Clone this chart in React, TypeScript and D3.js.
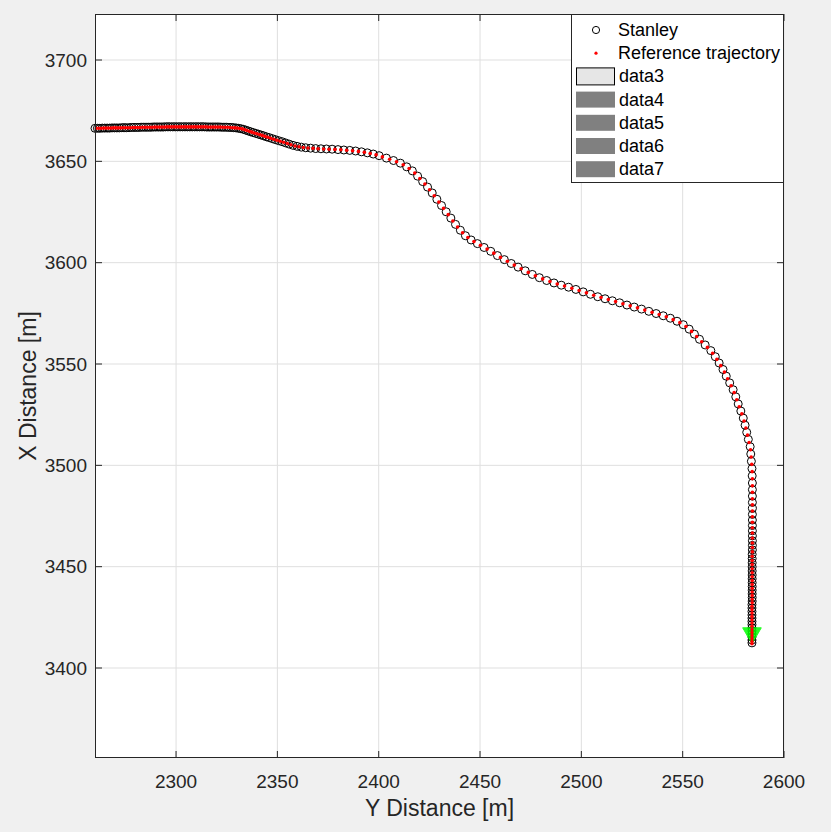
import React from 'react';
import * as d3 from 'd3';

const xTicks = [2300, 2350, 2400, 2450, 2500, 2550, 2600];
const yTicks = [3400, 3450, 3500, 3550, 3600, 3650, 3700];
const xDomain = [2260, 2600];
const yDomain = [3355.6, 3722.7];
const xLabel = 'Y Distance [m]';
const yLabel = 'X Distance [m]';
const legendLabels = ['Stanley', 'Reference trajectory', 'data3', 'data4', 'data5', 'data6', 'data7'];

// Stanley controller positions (horizontal = Y distance, vertical = X distance)
const stanleyY = [
  2260.0, 2261.2, 2262.4, 2263.6, 2264.8, 2266.0, 2267.2, 2268.4, 2269.6, 2270.8,
  2272.0, 2273.2, 2274.4, 2275.6, 2276.8, 2278.0, 2279.2, 2280.4, 2281.6, 2282.8,
  2284.0, 2285.2, 2286.4, 2287.6, 2288.8, 2290.0, 2291.2, 2292.4, 2293.6, 2294.8,
  2296.0, 2297.2, 2298.4, 2299.6, 2300.8, 2302.0, 2303.2, 2304.4, 2305.6, 2306.8,
  2308.0, 2309.2, 2310.4, 2311.6, 2312.8, 2314.0, 2315.2, 2316.4, 2317.6, 2318.8,
  2320.0, 2321.2, 2322.4, 2323.6, 2324.8, 2326.0, 2327.2, 2328.4, 2329.6, 2330.8,
  2332.0, 2333.2,
  2334.4, 2335.6, 2336.8, 2338.0, 2339.3, 2340.6, 2341.9, 2343.2, 2344.6, 2346.0,
  2347.5, 2349.0, 2350.6, 2352.3, 2354.0, 2355.8, 2357.7, 2359.7, 2361.8, 2364.0,
  2366.4, 2368.9, 2371.5, 2374.2, 2377.0, 2379.9, 2382.8, 2385.7, 2388.6, 2391.5,
  2394.4, 2397.3, 2400.2, 2403.8, 2407.3, 2410.7, 2413.8, 2416.6, 2419.2, 2421.7,
  2424.1, 2426.4, 2428.7, 2431.0, 2433.3, 2435.6, 2437.9, 2440.3, 2442.8, 2445.6,
  2448.7, 2452.0, 2455.3, 2458.6, 2462.0, 2465.4, 2468.8, 2472.3, 2475.8, 2479.3,
  2482.9, 2486.5, 2490.1, 2493.7, 2497.3, 2500.9, 2504.5, 2508.1, 2511.7, 2515.3,
  2518.9, 2522.5, 2526.1, 2529.7, 2533.3, 2536.9, 2540.4, 2543.9, 2547.2, 2550.3,
  2553.2, 2555.8, 2558.3, 2561.1, 2563.9, 2566.1, 2568.0, 2569.9, 2571.5, 2573.2,
  2574.9, 2576.2, 2577.4, 2578.7, 2579.9, 2580.8, 2581.6, 2582.4, 2583.3, 2583.6,
  2583.9, 2584.2, 2584.3, 2584.4,
  2584.4, 2584.4, 2584.4, 2584.4, 2584.4, 2584.4, 2584.4, 2584.4, 2584.4, 2584.4, 2584.4, 2584.4,
  2584.3, 2584.3, 2584.3, 2584.3, 2584.3, 2584.3, 2584.3, 2584.3, 2584.3, 2584.3, 2584.3, 2584.3, 2584.3,
  2584.2, 2584.2, 2584.2, 2584.2, 2584.2, 2584.2, 2584.2, 2584.2, 2584.2, 2584.2, 2584.2, 2584.2, 2584.2,
];
const stanleyX = [
  3666.3, 3666.3, 3666.3, 3666.4, 3666.4, 3666.4, 3666.4, 3666.5, 3666.5, 3666.5,
  3666.5, 3666.6, 3666.6, 3666.6, 3666.6, 3666.7, 3666.7, 3666.7, 3666.7, 3666.8,
  3666.8, 3666.8, 3666.8, 3666.8, 3666.9, 3666.9, 3666.9, 3666.9, 3666.9, 3667.0,
  3667.0, 3667.0, 3667.0, 3667.0, 3667.0, 3667.0, 3667.0, 3667.0, 3667.0, 3667.0,
  3667.0, 3667.0, 3667.0, 3667.0, 3667.0, 3667.0, 3666.9, 3666.9, 3666.9, 3666.9,
  3666.9, 3666.9, 3666.8, 3666.8, 3666.8, 3666.7, 3666.7, 3666.6, 3666.5, 3666.3,
  3666.1, 3665.8,
  3665.4, 3665.0, 3664.6, 3664.2, 3663.8, 3663.4, 3663.0, 3662.6, 3662.1, 3661.7,
  3661.2, 3660.7, 3660.2, 3659.7, 3659.1, 3658.5, 3657.9, 3657.4, 3657.0, 3656.7,
  3656.5, 3656.3, 3656.2, 3656.1, 3656.0, 3655.8, 3655.6, 3655.4, 3655.1, 3654.7,
  3654.2, 3653.6, 3652.8, 3651.6, 3650.4, 3649.1, 3647.3, 3645.3, 3642.7, 3640.0,
  3637.3, 3634.4, 3631.3, 3628.2, 3625.1, 3622.0, 3618.9, 3616.0, 3613.3, 3611.2,
  3609.4, 3607.5, 3605.6, 3603.5, 3601.5, 3599.6, 3597.8, 3596.0, 3594.2, 3592.6,
  3591.2, 3590.0, 3588.9, 3587.9, 3586.8, 3585.6, 3584.4, 3583.2, 3582.2, 3581.2,
  3580.2, 3579.1, 3578.1, 3577.1, 3576.0, 3574.9, 3573.8, 3572.6, 3571.1, 3569.4,
  3567.2, 3564.7, 3562.2, 3559.4, 3556.6, 3553.6, 3550.5, 3547.3, 3544.0, 3540.7,
  3537.3, 3533.8, 3530.3, 3526.8, 3523.3, 3519.8, 3516.3, 3512.8, 3509.2, 3505.6,
  3502.0, 3498.4, 3494.8, 3491.3,
  3488.0, 3484.8, 3481.7, 3478.7, 3475.8, 3473.0, 3470.3, 3467.7, 3465.2, 3462.8, 3460.5, 3458.3,
  3456.1, 3454.0, 3451.9, 3449.9, 3447.9, 3445.9, 3444.0, 3442.1, 3440.2, 3438.4, 3436.6, 3434.8, 3433.0,
  3431.3, 3429.6, 3427.9, 3426.2, 3424.6, 3423.0, 3421.4, 3419.8, 3418.3, 3416.8, 3415.3, 3413.8, 3412.4,
];

// Reference trajectory
const refY = [
  2260.7, 2261.9, 2263.1, 2264.3, 2265.5, 2266.7, 2267.9, 2269.1, 2270.3, 2271.5,
  2272.7, 2273.9, 2275.1, 2276.3, 2277.5, 2278.7, 2279.9, 2281.1, 2282.3, 2283.5,
  2284.7, 2285.9, 2287.1, 2288.3, 2289.5, 2290.7, 2291.9, 2293.1, 2294.3, 2295.5,
  2296.7, 2297.9, 2299.1, 2300.3, 2301.5, 2302.7, 2303.9, 2305.1, 2306.3, 2307.5,
  2308.7, 2309.9, 2311.1, 2312.3, 2313.5, 2314.7, 2315.9, 2317.1, 2318.3, 2319.5,
  2320.7, 2321.9, 2323.1, 2324.3, 2325.5, 2326.7, 2327.9, 2329.1, 2330.3, 2331.5,
  2332.7, 2333.9,
  2335.0, 2336.2, 2337.4, 2338.6, 2339.9, 2341.2, 2342.5, 2343.9, 2345.3, 2346.7,
  2348.2, 2349.8, 2351.4, 2353.1, 2354.9, 2356.7, 2358.7, 2360.7, 2362.8, 2365.1,
  2367.6, 2370.1, 2372.8, 2375.5, 2378.4, 2381.3, 2384.2, 2387.1, 2390.0, 2392.9,
  2395.8, 2398.7, 2401.8, 2405.4, 2408.8, 2412.1, 2415.0, 2417.8, 2420.3, 2422.8,
  2425.1, 2427.4, 2429.7, 2432.0, 2434.3, 2436.6, 2438.9, 2441.4, 2444.0, 2447.0,
  2450.2, 2453.5, 2456.8, 2460.1, 2463.5, 2466.9, 2470.3, 2473.8, 2477.3, 2480.9,
  2484.5, 2488.1, 2491.7, 2495.3, 2498.9, 2502.5, 2506.1, 2509.7, 2513.3, 2516.9,
  2520.5, 2524.1, 2527.7, 2531.3, 2534.9, 2538.4, 2541.9, 2545.3, 2548.6, 2551.6,
  2554.4, 2556.9, 2559.4, 2562.2, 2564.8, 2566.9, 2568.8, 2570.6, 2572.2, 2573.9,
  2575.4, 2576.7, 2577.9, 2579.2, 2580.3, 2581.2, 2582.0, 2582.8, 2583.5, 2583.8,
  2584.1, 2584.3, 2584.4, 2584.4,
  2584.4, 2584.4, 2584.4, 2584.4, 2584.4, 2584.4, 2584.4, 2584.4, 2584.4, 2584.4, 2584.4, 2584.4,
  2584.3, 2584.3, 2584.3, 2584.3, 2584.3, 2584.3, 2584.3, 2584.3, 2584.3, 2584.3, 2584.3, 2584.3, 2584.3,
  2584.2, 2584.2, 2584.2, 2584.2, 2584.2, 2584.2, 2584.2, 2584.2, 2584.2, 2584.2, 2584.2, 2584.2, 2584.2,
];
const refX = [
  3666.3, 3666.3, 3666.3, 3666.4, 3666.4, 3666.4, 3666.4, 3666.5, 3666.5, 3666.5,
  3666.5, 3666.6, 3666.6, 3666.6, 3666.6, 3666.7, 3666.7, 3666.7, 3666.7, 3666.8,
  3666.8, 3666.8, 3666.8, 3666.8, 3666.9, 3666.9, 3666.9, 3666.9, 3666.9, 3667.0,
  3667.0, 3667.0, 3667.0, 3667.0, 3667.0, 3667.0, 3667.0, 3667.0, 3667.0, 3667.0,
  3667.0, 3667.0, 3667.0, 3667.0, 3667.0, 3667.0, 3666.9, 3666.9, 3666.9, 3666.9,
  3666.9, 3666.9, 3666.8, 3666.8, 3666.8, 3666.7, 3666.6, 3666.5, 3666.4, 3666.2,
  3666.0, 3665.6,
  3665.2, 3664.8, 3664.4, 3664.0, 3663.6, 3663.2, 3662.8, 3662.3, 3661.9, 3661.4,
  3660.9, 3660.4, 3659.9, 3659.4, 3658.8, 3658.2, 3657.6, 3657.2, 3656.8, 3656.6,
  3656.4, 3656.2, 3656.1, 3656.0, 3655.9, 3655.7, 3655.5, 3655.2, 3654.9, 3654.5,
  3653.9, 3653.2, 3652.2, 3651.0, 3649.8, 3648.3, 3646.5, 3644.2, 3641.5, 3638.8,
  3636.0, 3633.0, 3629.9, 3626.8, 3623.7, 3620.6, 3617.6, 3614.8, 3612.4, 3610.4,
  3608.6, 3606.7, 3604.7, 3602.6, 3600.7, 3598.8, 3597.0, 3595.2, 3593.5, 3592.0,
  3590.7, 3589.5, 3588.5, 3587.4, 3586.3, 3585.1, 3583.9, 3582.8, 3581.8, 3580.8,
  3579.7, 3578.7, 3577.7, 3576.6, 3575.5, 3574.4, 3573.3, 3571.9, 3570.4, 3568.5,
  3566.1, 3563.6, 3561.0, 3558.2, 3555.3, 3552.3, 3549.2, 3546.0, 3542.7, 3539.3,
  3535.9, 3532.4, 3528.9, 3525.4, 3521.9, 3518.4, 3514.9, 3511.3, 3507.7, 3504.1,
  3500.5, 3496.9, 3493.4, 3489.9,
  3486.7, 3483.5, 3480.5, 3477.5, 3474.6, 3471.9, 3469.2, 3466.6, 3464.1, 3461.7, 3459.5, 3457.3,
  3455.1, 3453.0, 3451.0, 3449.0, 3447.0, 3445.0, 3443.1, 3441.2, 3439.3, 3437.5, 3435.7, 3433.9, 3432.2,
  3430.5, 3428.8, 3427.1, 3425.4, 3423.8, 3422.2, 3420.6, 3419.0, 3417.5, 3416.0, 3414.5, 3413.1, 3412.0,
];

const goalY = [2584.2];
const goalX = [3417.2];

const FONT = '"Liberation Sans", Arial, Helvetica, sans-serif';
const AX = '#262626';

export default function App() {
  const W = 831, H = 832;
  const left = 95, right = 784, top = 14, bottom = 758;
  const x = d3.scaleLinear().domain(xDomain).range([left, right]);
  const y = d3.scaleLinear().domain(yDomain).range([bottom, top]);

  const stanley = stanleyY.map((v, i) => [v, stanleyX[i]]).filter(d => d[1] !== undefined);
  const ref = refY.map((v, i) => [v, refX[i]]).filter(d => d[1] !== undefined);
  const tri = d3.symbol().type(d3.symbolTriangle).size(150)();

  const tickLen = 7;
  const legX = 571, legY = 14, legW = 213, legH = 169;
  const rowY = (i: number) => 30 + i * 23.2;

  return (
    <svg width={W} height={H} style={{ position: 'absolute', left: 0, top: 0, display: 'block' }} fontFamily={FONT}>
      <rect x={0} y={0} width={W} height={H} fill="#f0f0f0" />
      <rect x={left} y={top} width={right - left} height={bottom - top} fill="#ffffff" />
      {/* grid */}
      {xTicks.map(t => (
        <line key={'gx' + t} x1={x(t)} x2={x(t)} y1={top} y2={bottom} stroke="#dfdfdf" strokeWidth={1} />
      ))}
      {yTicks.map(t => (
        <line key={'gy' + t} x1={left} x2={right} y1={y(t)} y2={y(t)} stroke="#dfdfdf" strokeWidth={1} />
      ))}
      {/* Stanley */}
      {stanley.map((d, i) => (
        <circle key={'s' + i} cx={x(d[0])} cy={y(d[1])} r={4} fill="none" stroke="#000" strokeWidth={1} />
      ))}
      {/* goal marker */}
      {goalY.map((g, i) => (
        <path key={'g' + i} d={tri} transform={`translate(${x(g)},${y(goalX[i])}) rotate(180)`} fill="#00ff00" stroke="#00ff00" opacity={0.85} />
      ))}
      {/* Reference */}
      {ref.map((d, i) => (
        <circle key={'r' + i} cx={x(d[0])} cy={y(d[1])} r={1.8} fill="#ff0000" />
      ))}
      {/* axes box */}
      <rect x={left + 0.5} y={top + 0.5} width={right - left - 1} height={bottom - top - 1} fill="none" stroke={AX} strokeWidth={1} />
      {xTicks.map(t => (
        <g key={'tx' + t}>
          <line x1={x(t)} x2={x(t)} y1={bottom} y2={bottom - tickLen} stroke={AX} />
          <line x1={x(t)} x2={x(t)} y1={top} y2={top + tickLen} stroke={AX} />
          <text x={x(t)} y={781} textAnchor="middle" dominantBaseline="central" fontSize={19} fill={AX}>{t}</text>
        </g>
      ))}
      {yTicks.map(t => (
        <g key={'ty' + t}>
          <line x1={left} x2={left + tickLen} y1={y(t)} y2={y(t)} stroke={AX} />
          <line x1={right} x2={right - tickLen} y1={y(t)} y2={y(t)} stroke={AX} />
          <text x={87} y={y(t)} textAnchor="end" dominantBaseline="central" fontSize={19} fill={AX}>{t}</text>
        </g>
      ))}
      <text x={(left + right) / 2} y={808} textAnchor="middle" dominantBaseline="central" fontSize={23} fill={AX}>{xLabel}</text>
      <text transform={`translate(28,${(top + bottom) / 2}) rotate(-90)`} textAnchor="middle" dominantBaseline="central" fontSize={23} fill={AX}>{yLabel}</text>
      {/* legend */}
      <rect x={legX + 0.5} y={legY + 0.5} width={legW - 1} height={legH - 1} fill="#ffffff" stroke={AX} strokeWidth={1} />
      <circle cx={596} cy={rowY(0)} r={3.6} fill="none" stroke="#000" strokeWidth={1} />
      <circle cx={596} cy={rowY(1)} r={1.6} fill="#ff0000" />
      <rect x={576.5} y={rowY(2) - 8.5} width={38} height={17} fill="#e6e6e6" stroke="#000" strokeWidth={1} />
      {[3, 4, 5, 6].map(i => (
        <rect key={'lp' + i} x={576} y={rowY(i) - 8} width={39} height={16} fill="#808080" />
      ))}
      {legendLabels.map((l, i) => (
        <text key={'lt' + i} x={i < 2 ? 618 : 619} y={rowY(i)} dominantBaseline="central" fontSize={18} fill="#000">{l}</text>
      ))}
    </svg>
  );
}
